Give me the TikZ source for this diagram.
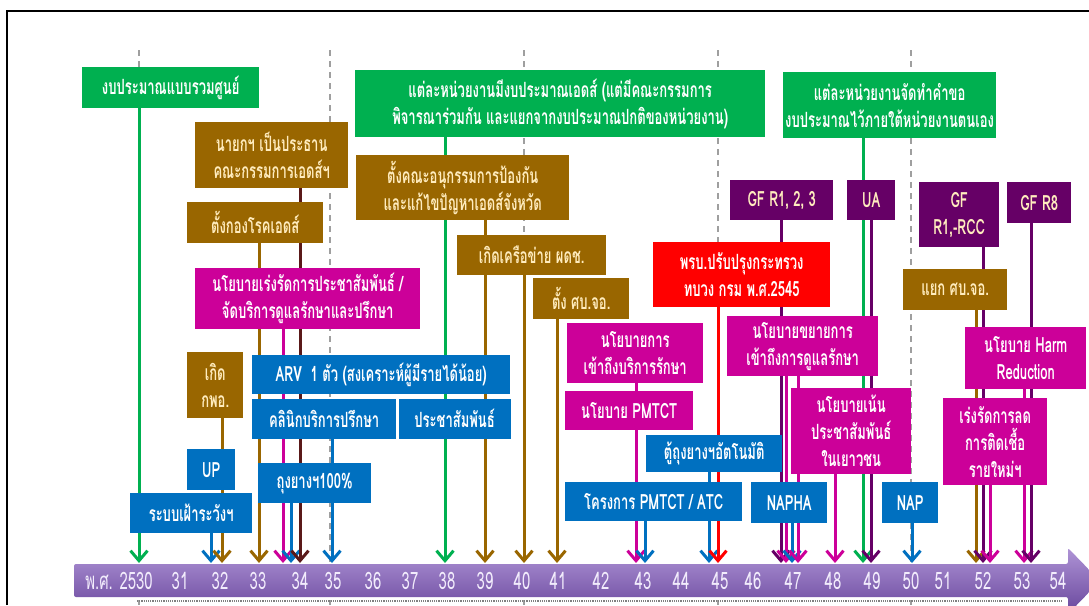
\documentclass[tikz,border=0pt]{standalone}
\usepackage{fontspec}
\newfontfamily\thaifont[Script=Thai,FakeStretch=0.62]{Loma}
\usetikzlibrary{arrows.meta,positioning,backgrounds}

\definecolor{cgreen}{RGB}{0,176,80}
\definecolor{cbrown}{RGB}{153,102,0}
\definecolor{cmag}{RGB}{204,0,153}
\definecolor{cblue}{RGB}{0,112,192}
\definecolor{cpurple}{RGB}{102,0,102}
\definecolor{cred}{RGB}{255,0,0}
\definecolor{cmaroon}{RGB}{90,25,25}
\definecolor{ccream}{RGB}{255,236,190}
\definecolor{cbartop}{RGB}{175,148,214}
\definecolor{cbarbot}{RGB}{104,70,156}
\definecolor{cyear}{RGB}{242,236,252}

\begin{document}
\begin{tikzpicture}[x=1pt, y=-1pt,
    box/.style={rectangle, anchor=north west, inner sep=2pt, align=center, text=white, font=\thaifont\bfseries\fontsize{21}{27}\selectfont},
    boxsize/.style 2 args={minimum width=#1, minimum height=#2},
    gbox/.style={box, fill=cgreen},
    bbox/.style={box, fill=cbrown, text=ccream},
    mbox/.style={box, fill=cmag},
    lbox/.style={box, fill=cblue},
    pbox/.style={box, fill=cpurple, text=ccream},
    rbox/.style={box, fill=cred},
    conn/.style={line width=3pt, -{Straight Barb[length=10pt,width=17pt]}},
    yearlbl/.style={text=cyear, font=\thaifont\fontsize{24}{24}\selectfont, inner sep=0pt},
    guide/.style={gray!75, line width=1.5pt, dash pattern=on 6pt off 5pt}]
    \useasboundingbox (0,0) rectangle (1089,605);

    % Frame
    \draw [line width=1.2pt] (7,605) -- (7,11) -- (1089,11);
    \draw [gray, densely dotted, line width=1.2pt] (137,601) -- (1062,601);

    % Budget phases
    \node (g1) [gbox, boxsize={177}{41}] at (82,67) {งบประมาณแบบรวมศูนย์};
    \node (g2) [gbox, boxsize={410}{67}] at (355,70) {แต่ละหน่วยงานมีงบประมาณเอดส์ (แต่มีคณะกรรมการ\\พิจารณาร่วมกัน และแยกจากงบประมาณปกติของหน่วยงาน)};
    \node (g3) [gbox, boxsize={145}{66}] at (783,72) {แต่ละหน่วยงานจัดทำคำขอ\\งบประมาณไว้ภายใต้หน่วยงานตนเอง};

    % Left events
    \node (b1) [bbox, boxsize={153}{66}] at (195,122) {นายกฯ เป็นประธาน\\คณะกรรมการเอดส์ฯ};
    \node (b2) [bbox, boxsize={136}{41}] at (187,202) {ตั้งกองโรคเอดส์};
    \node (m1) [mbox, boxsize={225}{61}] at (195,268) {นโยบายเร่งรัดการประชาสัมพันธ์ /\\จัดบริการดูแลรักษาและปรึกษา};
    \node (b3) [bbox, boxsize={56}{66}] at (187,352) {เกิด\\กพอ.};
    \node (l1) [lbox, boxsize={258}{39}] at (252,355) {ARV~~1 ตัว (สงเคราะห์ผู้มีรายได้น้อย)};
    \node (l2) [lbox, boxsize={144}{40}, below=4pt of l1.south west, anchor=north west] {คลินิกบริการปรึกษา};
    \node (l3) [lbox, boxsize={112}{40}, right=2pt of l2] {ประชาสัมพันธ์};
    \node (l4) [lbox, boxsize={48}{41}] at (187,449) {UP};
    \node (l5) [lbox, boxsize={122}{40}] at (130,493) {ระบบเฝ้าระวังฯ};
    \node (l6) [lbox, boxsize={113}{40}] at (258,463) {ถุงยางฯ100\%};

    % Middle events
    \node (b4) [bbox, boxsize={213}{65}] at (356,155) {ตั้งคณะอนุกรรมการป้องกัน\\และแก้ไขปัญหาเอดส์จังหวัด};
    \node (b5) [bbox, boxsize={149}{40}] at (457,235) {เกิดเครือข่าย ผดช.};
    \node (b6) [bbox, boxsize={96}{41}] at (533,278) {ตั้ง ศบ.จอ.};
    \node (m2) [mbox, boxsize={136}{60}] at (567,323) {นโยบายการ\\เข้าถึงบริการรักษา};
    \node (m3) [mbox, boxsize={128}{39}] at (565,391) {นโยบาย PMTCT};
    \node (l7) [lbox, boxsize={136}{37}] at (646,435) {ตู้ถุงยางฯอัตโนมัติ};
    \node (l8) [lbox, boxsize={177}{39}] at (565,482) {โครงการ PMTCT / ATC};
    \node (r1) [rbox, boxsize={177}{65}] at (653,242) {พรบ.ปรับปรุงกระทรวง\\ทบวง กรม พ.ศ.2545};

    % Right events
    \node (p1) [pbox, boxsize={103}{40}] at (730,180) {GF R1, 2, 3};
    \node (p2) [pbox, boxsize={48}{40}] at (847,180) {UA};
    \node (p3) [pbox, boxsize={80}{65}] at (919,182) {GF\\R1,-RCC};
    \node (p4) [pbox, boxsize={64}{41}] at (1007,182) {GF R8};
    \node (m4) [mbox, boxsize={151}{60}] at (727,316) {นโยบายขยายการ\\เข้าถึงการดูแลรักษา};
    \node (m5) [mbox, boxsize={120}{86}] at (791,388) {นโยบายเน้น\\ประชาสัมพันธ์\\ในเยาวชน};
    \node (l9) [lbox, boxsize={76}{41}] at (751,482) {NAPHA};
    \node (l10) [lbox, boxsize={56}{41}] at (882,482) {NAP};
    \node (b7) [bbox, boxsize={104}{41}] at (903,269) {แยก ศบ.จอ.};
    \node (m6) [mbox, boxsize={121}{62}] at (965,327) {นโยบาย Harm\\Reduction};
    \node (m7) [mbox, boxsize={104}{87}] at (943,398) {เร่งรัดการลด\\การติดเชื้อ\\รายใหม่ฯ};

    % Timeline
    \shade [top color=cbartop, bottom color=cbarbot, rounded corners=2pt] (74,564) -- (1068,564) -- (1068,548) -- (1100,581) -- (1068,614) -- (1068,597) -- (74,597) -- cycle;
    \node (y30) [yearlbl] at (119,581) {พ.ศ. 2530};
    \node (y31) [yearlbl] at (180,581) {31};
    \node (y32) [yearlbl] at (220,581) {32};
    \node (y33) [yearlbl] at (258,581) {33};
    \node (y34) [yearlbl] at (300,581) {34};
    \node (y35) [yearlbl] at (333,581) {35};
    \node (y36) [yearlbl] at (373,581) {36};
    \node (y37) [yearlbl] at (410,581) {37};
    \node (y38) [yearlbl] at (447,581) {38};
    \node (y39) [yearlbl] at (485,581) {39};
    \node (y40) [yearlbl] at (522,581) {40};
    \node (y41) [yearlbl] at (558,581) {41};
    \node (y42) [yearlbl] at (601,581) {42};
    \node (y43) [yearlbl] at (643,581) {43};
    \node (y44) [yearlbl] at (681,581) {44};
    \node (y45) [yearlbl] at (720,581) {45};
    \node (y46) [yearlbl] at (753,581) {46};
    \node (y47) [yearlbl] at (793,581) {47};
    \node (y48) [yearlbl] at (833,581) {48};
    \node (y49) [yearlbl] at (872,581) {49};
    \node (y50) [yearlbl] at (911,581) {50};
    \node (y51) [yearlbl] at (943,581) {51};
    \node (y52) [yearlbl] at (983,581) {52};
    \node (y53) [yearlbl] at (1022,581) {53};
    \node (y54) [yearlbl] at (1058,581) {54};

    % Arrow tips on the bar
    \coordinate (t1) at (139,563);
    \coordinate (t2) at (211,563);
    \coordinate (t3) at (222,563);
    \coordinate (t4) at (259,563);
    \coordinate (t5) at (283,563);
    \coordinate (t6) at (291,563);
    \coordinate (t7) at (300,563);
    \coordinate (t8) at (332,563);
    \coordinate (t9) at (445,563);
    \coordinate (t10) at (485,563);
    \coordinate (t11) at (524,563);
    \coordinate (t12) at (557,563);
    \coordinate (t13) at (636,563);
    \coordinate (t14) at (645,563);
    \coordinate (t15) at (709,563);
    \coordinate (t16) at (718,563);
    \coordinate (t17) at (781,563);
    \coordinate (t18) at (786,563);
    \coordinate (t19) at (792,563);
    \coordinate (t20) at (798,563);
    \coordinate (t21) at (835,563);
    \coordinate (t22) at (863,563);
    \coordinate (t23) at (871,563);
    \coordinate (t24) at (912,563);
    \coordinate (t25) at (976,563);
    \coordinate (t26) at (983,563);
    \coordinate (t27) at (990,563);
    \coordinate (t28) at (1024,563);
    \coordinate (t29) at (1031,563);

    \begin{pgfonlayer}{background}
        % Period guides
        \draw [guide] (139,50) -- (139,605);
        \draw [guide] (330,50) -- (330,605);
        \draw [guide] (524,50) -- (524,605);
        \draw [guide] (718,50) -- (718,605);
        \draw [guide] (911,50) -- (911,605);

        % Links
        \draw [conn, cgreen] (g1.south -| t1) -- (t1);
        \draw [conn, cblue] (l5.south -| t2) -- (t2);
        \draw [conn, cbrown] (b3.south -| t3) -- (t3);
        \draw [conn, cbrown] (b2.south -| t4) -- (t4);
        \draw [conn, cmag] (m1.south -| t5) -- (t5);
        \draw [conn, cblue] (l6.south -| t6) -- (t6);
        \draw [conn, cmaroon] (b1.south -| t7) -- (t7);
        \draw [conn, cblue] (l2.south -| t8) -- (t8);
        \draw [conn, cgreen] (g2.south -| t9) -- (t9);
        \draw [conn, cbrown] (b4.south -| t10) -- (t10);
        \draw [conn, cbrown] (b5.south -| t11) -- (t11);
        \draw [conn, cbrown] (b6.south -| t12) -- (t12);
        \draw [conn, cmag] (m2.south -| t13) -- (t13);
        \draw [conn, cblue] (l8.south -| t14) -- (t14);
        \draw [conn, cblue] (l7.south -| t15) -- (t15);
        \draw [conn, cred] (r1.south -| t16) -- (t16);
        \draw [conn, cpurple] (p1.south -| t17) -- (t17);
        \draw [conn, cmag] (m4.south -| t18) -- (t18);
        \draw [conn, cblue] (l9.south -| t19) -- (t19);
        \draw [conn, cmag] (m4.south -| t20) -- (t20);
        \draw [conn, cmag] (m5.south -| t21) -- (t21);
        \draw [conn, cgreen] (g3.south -| t22) -- (t22);
        \draw [conn, cpurple] (p2.south -| t23) -- (t23);
        \draw [conn, cblue] (l10.south -| t24) -- (t24);
        \draw [conn, cbrown] (b7.south -| t25) -- (t25);
        \draw [conn, cpurple] (p3.south -| t26) -- (t26);
        \draw [conn, cmag] (m7.south -| t27) -- (t27);
        \draw [conn, cmag] (m6.south -| t28) -- (t28);
        \draw [conn, cpurple] (p4.south -| t29) -- (t29);
    \end{pgfonlayer}
\end{tikzpicture}
\end{document}
